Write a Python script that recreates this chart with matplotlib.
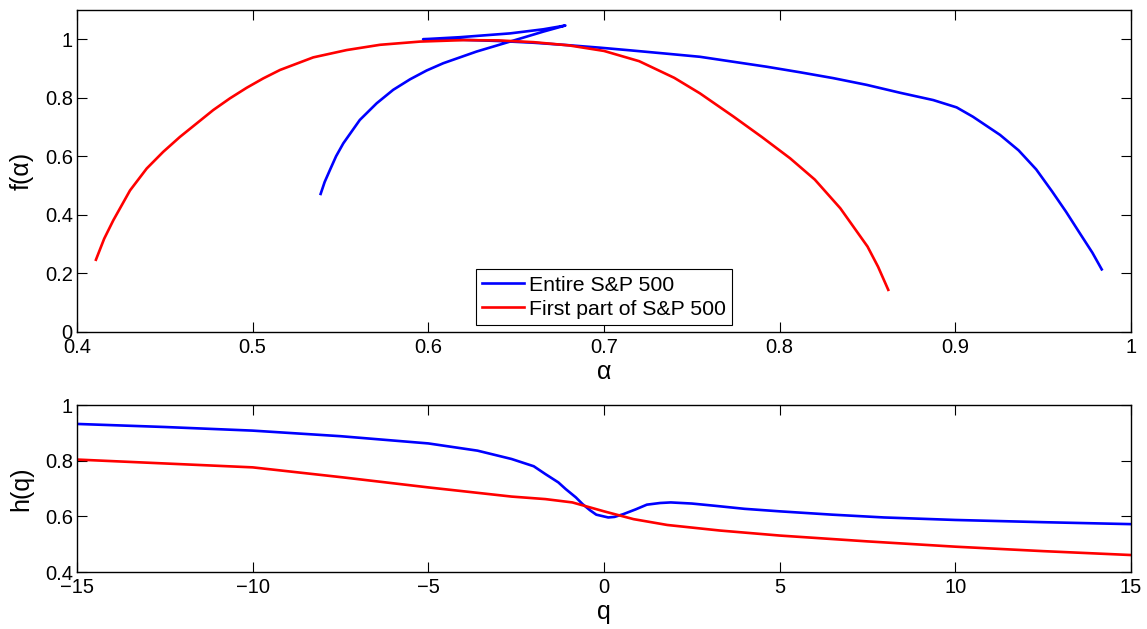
import numpy as np
import matplotlib.pyplot as plt
from matplotlib.ticker import FuncFormatter

plt.rcParams['font.family'] = ['Liberation Sans', 'DejaVu Sans']

# f(alpha) spectrum, entire S&P 500 (path ordered as drawn)
alpha_all = [0.9833, 0.978, 0.971, 0.963, 0.955, 0.946, 0.936, 0.9254, 0.91, 0.9007,
             0.8874, 0.8685, 0.8495, 0.8305, 0.8116, 0.7926, 0.7736, 0.7546, 0.735, 0.715,
             0.698, 0.679, 0.66, 0.64, 0.62, 0.597,
             0.618, 0.6465, 0.6654, 0.678,
             0.6654, 0.656, 0.6465, 0.637, 0.6275, 0.618, 0.6085, 0.599, 0.5896, 0.580,
             0.5706, 0.561, 0.5516, 0.5475, 0.544, 0.5410, 0.5387]
f_all = [0.213, 0.27, 0.335, 0.41, 0.48, 0.555, 0.62, 0.673, 0.735, 0.767,
         0.792, 0.817, 0.844, 0.867, 0.887, 0.906, 0.923, 0.94, 0.951, 0.962,
         0.971, 0.980, 0.988, 0.994, 0.998, 1.0,
         1.007, 1.020, 1.034, 1.047,
         1.026, 1.009, 0.992, 0.975, 0.958, 0.938, 0.918, 0.893, 0.863, 0.827,
         0.781, 0.724, 0.644, 0.600, 0.553, 0.512, 0.471]

# f(alpha) spectrum, first part of S&P 500
alpha_first = [0.4108, 0.4155, 0.4207, 0.4302, 0.4397, 0.4491, 0.4586, 0.4681, 0.4776, 0.4871, 0.4966,
               0.506, 0.5156, 0.5345, 0.5535, 0.5725, 0.5953, 0.62, 0.64, 0.66, 0.68,
               0.70, 0.72, 0.74, 0.7546, 0.7736, 0.79, 0.8059, 0.82, 0.8345, 0.85, 0.856, 0.8618]
f_first = [0.246, 0.318, 0.381, 0.483, 0.558, 0.615, 0.666, 0.712, 0.758, 0.798, 0.834,
           0.866, 0.895, 0.938, 0.963, 0.981, 0.992, 0.997, 0.996, 0.99, 0.979,
           0.96, 0.925, 0.868, 0.815, 0.736, 0.665, 0.593, 0.52, 0.422, 0.291, 0.222, 0.143]

# generalized Hurst exponent h(q)
q_all = [-15, -12.5, -10, -7.5, -5, -3.6, -2.63, -2.0, -1.67, -1.3, -1.09, -0.8, -0.61, -0.4,
         -0.22, 0.12, 0.3, 0.55, 0.9, 1.22, 1.6, 1.9, 2.5, 3.15, 4, 5, 6.5, 7.97, 10, 12.5, 15]
h_all = [0.932, 0.921, 0.908, 0.888, 0.862, 0.836, 0.806, 0.78, 0.752, 0.722, 0.698, 0.668, 0.644, 0.622,
         0.606, 0.596, 0.598, 0.608, 0.625, 0.642, 0.648, 0.650, 0.646, 0.638, 0.627, 0.618, 0.606, 0.596,
         0.587, 0.579, 0.572]
q_first = [-15, -12.5, -10, -7.43, -5, -2.63, -1.67, -0.9, 0, 0.84, 1.8, 3.3, 5, 7.5, 10, 12.5, 15]
h_first = [0.804, 0.790, 0.776, 0.740, 0.704, 0.671, 0.662, 0.650, 0.618, 0.590, 0.569, 0.549,
           0.531, 0.510, 0.491, 0.475, 0.461]

labels = ['Entire S&P 500', 'First part of S&P 500']

fmt = FuncFormatter(lambda v, p: f'{v:g}'.replace('-', '\u2212'))

fig = plt.figure(figsize=(11.47, 6.29), dpi=100)
ax1 = fig.add_axes([0.0671, 0.4727, 0.9190, 0.5114])
ax2 = fig.add_axes([0.0671, 0.0906, 0.9190, 0.2655])

ax1.plot(alpha_all, f_all, color='#0000ff', lw=1.9, label=labels[0])
ax1.plot(alpha_first, f_first, color='#ff0000', lw=1.9, label=labels[1])
ax1.set_xlim(0.4, 1)
ax1.set_ylim(0, 1.1)
ax1.set_xticks(np.arange(0.4, 1.01, 0.1))
ax1.set_yticks(np.arange(0, 1.01, 0.2))
ax1.set_xlabel('\u03b1', fontsize=18, labelpad=2)
ax1.set_ylabel('f(\u03b1)', fontsize=18, labelpad=8)
leg = ax1.legend(loc='lower center', bbox_to_anchor=(0.5, 0.02), fontsize=15.3, frameon=True,
                 fancybox=False, edgecolor='black', framealpha=1, borderpad=0.3,
                 labelspacing=0.25, handlelength=1.95, handletextpad=0.25, borderaxespad=0)
leg.get_frame().set_linewidth(0.8)

ax2.plot(q_all, h_all, color='#0000ff', lw=1.9)
ax2.plot(q_first, h_first, color='#ff0000', lw=1.9)
ax2.set_xlim(-15, 15)
ax2.set_ylim(0.4, 1)
ax2.set_xticks(np.arange(-15, 16, 5))
ax2.set_yticks([0.4, 0.6, 0.8, 1.0])
ax2.set_xlabel('q', fontsize=18, labelpad=2)
ax2.set_ylabel('h(q)', fontsize=18, labelpad=8)

for ax in (ax1, ax2):
    ax.xaxis.set_major_formatter(fmt)
    ax.yaxis.set_major_formatter(fmt)
    ax.tick_params(direction='in', length=7.5, width=0.8, top=True, right=True,
                   labelsize=14.5, pad=3)
    ax.tick_params(axis='x', pad=4.5)
    for s in ax.spines.values():
        s.set_linewidth(1.0)

fig.savefig('out.png', dpi=100)
